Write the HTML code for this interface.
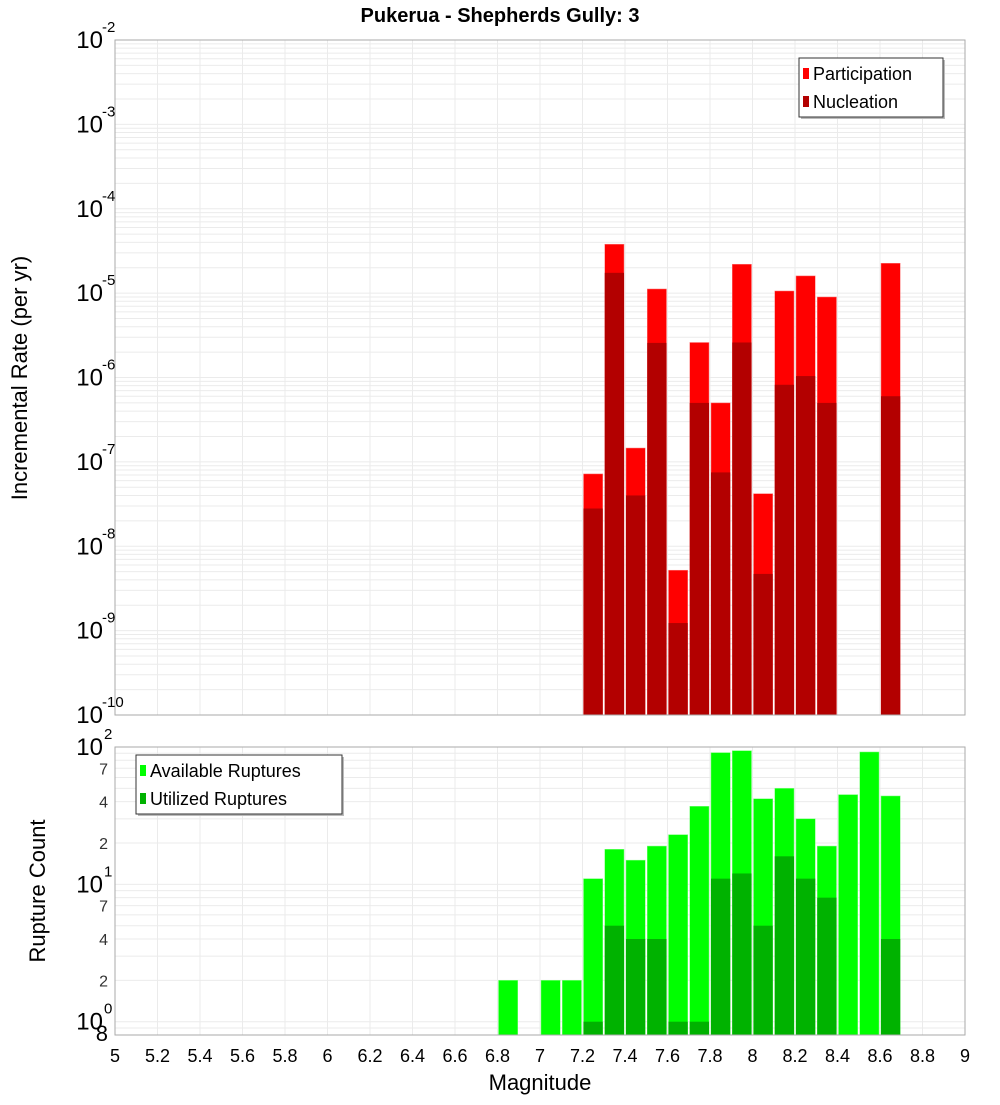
<!DOCTYPE html>
<html><head><meta charset="utf-8"><style>
body{margin:0;background:#fff}
svg{font-family:"Liberation Sans","DejaVu Sans",sans-serif}
</style></head><body>
<svg id="c" width="1000" height="1100" xmlns="http://www.w3.org/2000/svg">
<text x="500" y="22" text-anchor="middle" font-size="20" font-weight="bold">Pukerua - Shepherds Gully: 3</text>
<text transform="translate(27,378) rotate(-90)" text-anchor="middle" font-size="22">Incremental Rate (per yr)</text>
<text transform="translate(45,891) rotate(-90)" text-anchor="middle" font-size="22">Rupture Count</text>
<text x="540" y="1090" text-anchor="middle" font-size="22">Magnitude</text>
</svg>
<script>
const mags=[7.25,7.35,7.45,7.55,7.65,7.75,7.85,7.95,8.05,8.15,8.25,8.35,8.65];
const participation=[7.2e-8,3.8e-5,1.46e-7,1.12e-5,5.2e-9,2.6e-6,5e-7,2.2e-5,4.2e-8,1.06e-5,1.6e-5,9e-6,2.26e-5];
const nucleation=[2.8e-8,1.74e-5,4e-8,2.57e-6,1.23e-9,5e-7,7.5e-8,2.6e-6,4.7e-9,8.2e-7,1.04e-6,5e-7,6e-7];
const countMags=[6.85,7.05,7.15,7.25,7.35,7.45,7.55,7.65,7.75,7.85,7.95,8.05,8.15,8.25,8.35,8.45,8.55,8.65];
const available=[2,2,2,11,18,15,19,23,37,91,94,42,50,30,19,45,92,44];
const utilized=[0,0,0,1,5,4,4,1,1,11,12,5,16,11,8,0,0,4];
const xTicks=[5,5.2,5.4,5.6,5.8,6,6.2,6.4,6.6,6.8,7,7.2,7.4,7.6,7.8,8,8.2,8.4,8.6,8.8,9];

const svg=document.getElementById('c');
const NS='http://www.w3.org/2000/svg';
function el(t,a,p){const e=document.createElementNS(NS,t);for(const k in a)e.setAttribute(k,a[k]);(p||svg).appendChild(e);return e;}
const X0=115,X1=965;
const x=m=>X0+(m-5)/4*(X1-X0);
const T0=40,T1=715;
const yTop=v=>T0+(-2-Math.log10(v))/8*(T1-T0);
const B0=747,B1=1035;
const yBot=v=>B1-(Math.log10(v)-Math.log10(0.8))/Math.log10(100/0.8)*(B1-B0);
const bw=(X1-X0)/40;

// grids
const g=el('g',{});


for(let d=-10;d<-2;d++)for(let k=1;k<10;k++){const yy=yTop(k*Math.pow(10,d));el('line',{x1:X0,x2:X1,y1:yy,y2:yy,stroke:'#ebebeb','stroke-width':1},g);}
for(let d=-1;d<2;d++)for(let k=1;k<10;k++){const v=k*Math.pow(10,d);if(v<0.8||v>100)continue;const yy=yBot(v);el('line',{x1:X0,x2:X1,y1:yy,y2:yy,stroke:'#ebebeb','stroke-width':1},g);}
xTicks.forEach(t=>{el('line',{x1:x(t),x2:x(t),y1:T0,y2:T1,stroke:'#ebebeb'},g);el('line',{x1:x(t),x2:x(t),y1:B0,y2:B1,stroke:'#ebebeb'},g);});

// top bars
mags.forEach((m,i)=>{
 const r=el('rect',{x:x(m)-bw/2+1,y:yTop(participation[i]),width:bw-2,height:T1-yTop(participation[i]),fill:'#ff0000',stroke:'#ff8080','stroke-width':0.5});
 
 
 const n=el('rect',{x:x(m)-bw/2+1,y:yTop(nucleation[i]),width:bw-2,height:T1-yTop(nucleation[i]),fill:'#b30000'});
 
 
});
countMags.forEach((m,i)=>{
 const r=el('rect',{x:x(m)-bw/2+1,y:yBot(available[i]),width:bw-2,height:B1-yBot(available[i]),fill:'#00ff00',stroke:'#80ff80','stroke-width':0.5});
 
 
 if(utilized[i]>0){const n=el('rect',{x:x(m)-bw/2+1,y:yBot(utilized[i]),width:bw-2,height:B1-yBot(utilized[i]),fill:'#00b200'});
 
 }
});
// frames
el('rect',{x:X0,y:T0,width:X1-X0,height:T1-T0,fill:'none',stroke:'#aaa'});
el('rect',{x:X0,y:B0,width:X1-X0,height:B1-B0,fill:'none',stroke:'#aaa'});

// top y labels
for(let d=-10;d<=-2;d++){
 const t=el('text',{x:103,y:yTop(Math.pow(10,d))+8,'text-anchor':'end','font-size':24});
 
 
 t.textContent='10';
 const s=el('text',{x:102,y:yTop(Math.pow(10,d))-8,'font-size':15});
 
 
 s.textContent=String(d);
}
// bottom y labels
[0,1,2].forEach(d=>{
 const yy=yBot(Math.pow(10,d));
 const t=el('text',{x:103,y:yy+8,'text-anchor':'end','font-size':24});
 
 
 t.textContent='10';
 const s=el('text',{x:104,y:yy-8,'font-size':15});
 
 
 s.textContent=String(d);
});
[[2,0],[4,0],[7,0],[2,1],[4,1],[7,1],[0.8,-1]].forEach(([k,d])=>{
 const v=d<0?0.8:k*Math.pow(10,d);
 const t=el('text',{x:108,y:yBot(v)+6,'text-anchor':'end','font-size':d<0?22:16,fill:d<0?'#000':'#333'});
 
 
 t.textContent=d<0?'8':String(k);
});
// x labels
xTicks.forEach(t=>{
 const e=el('text',{x:x(t),y:1062,'text-anchor':'middle','font-size':18});
 
 
 e.textContent=String(t);
});
// legends
function legend(x0,y0,w,items,name){
 const lg=el('g',{});
 
 
 el('rect',{x:x0+2,y:y0+2,width:w,height:59,fill:'#bbb'},lg);
 el('rect',{x:x0,y:y0,width:w,height:59,fill:'#fff',stroke:'#333'},lg);
 items.forEach((it,i)=>{
  el('rect',{x:x0+4,y:y0+10+i*28,width:6,height:11,fill:it[1]},lg);
  const t=el('text',{x:x0+14,y:y0+22+i*28,'font-size':18},lg);
  t.textContent=it[0];
 });
}
legend(799,58,144,[['Participation','#ff0000'],['Nucleation','#b30000']],'top-legend');
legend(136,755,206,[['Available Ruptures','#00ff00'],['Utilized Ruptures','#00b200']],'bottom-legend');
</script>
</body></html>
